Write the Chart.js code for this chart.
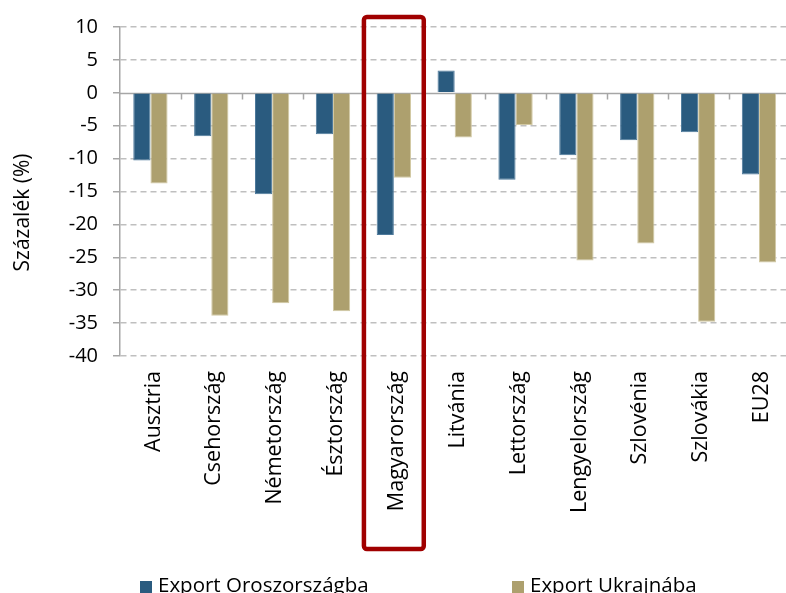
<!DOCTYPE html>
<html lang="hu">
<head>
<meta charset="utf-8">
<script src="https://cdn.jsdelivr.net/npm/chart.js@4/dist/chart.umd.min.js"></script>
<style>
  html, body { margin: 0; padding: 0; background: #fff; overflow: hidden; }
  #wrap { position: relative; width: 786px; height: 593px; overflow: hidden; }
  #c { position: absolute; left: 0; top: 0; }
  .leg { position: absolute; top: 570px; font: 20.5px "Open Sans", "Noto Sans", sans-serif; color: #000; white-space: nowrap; }
  .leg i { display: inline-block; width: 12px; height: 12px; margin-right: 6px; vertical-align: -1px; }
</style>
</head>
<body>
<div id="wrap">
  <canvas id="c" width="800" height="593"></canvas>
  <div class="leg" id="leg0" style="left:140px"></div>
  <div class="leg" id="leg1" style="left:512px"></div>
</div>
<script>
// Országok
const categories = ['Ausztria', 'Csehország', 'Németország', 'Észtország', 'Magyarország',
  'Litvánia', 'Lettország', 'Lengyelország', 'Szlovénia', 'Szlovákia', 'EU28'];

// Export változása, százalék
const exportRussia  = [-10.3, -6.6, -15.4, -6.3, -21.6, 3.4, -13.2, -9.5, -7.2, -6.0, -12.4];
const exportUkraine = [-13.8, -33.9, -32.0, -33.2, -12.9, -6.8, -4.9, -25.5, -22.9, -34.8, -25.8];

const seriesNames = ['Export Oroszországba', 'Export Ukrajnába'];
const yTicks = [10, 5, 0, -5, -10, -15, -20, -25, -30, -35, -40];
const highlighted = 'Magyarország';
const yTitle = 'Százalék (%)';

const colors = ['#2A5B7F', '#ADA06E'];
const borders = ['#4E7A9C', '#D2C9A4'];
const FONT = '"Open Sans", "Noto Sans", sans-serif';

// legend
[0, 1].forEach(i => {
  const el = document.getElementById('leg' + i);
  const sw = document.createElement('i');
  sw.style.background = colors[i];
  el.appendChild(sw);
  el.appendChild(document.createTextNode(seriesNames[i]));
});

// zero line with category ticks, y title, highlight frame
const decor = {
  id: 'decor',
  beforeDatasetsDraw(chart) {
    const { ctx, chartArea, scales: { x, y } } = chart;
    const y0 = Math.round(y.getPixelForValue(0)) + 0.5;
    ctx.save();
    ctx.strokeStyle = '#A6A6A6';
    ctx.lineWidth = 1.5;
    ctx.beginPath();
    ctx.moveTo(chartArea.left, y0);
    ctx.lineTo(chartArea.right, y0);
    const w = x.getPixelForValue(1) - x.getPixelForValue(0);
    for (let i = 1; i < categories.length; i++) {
      const px = Math.round(x.getPixelForValue(i) - w / 2) + 0.5;
      ctx.moveTo(px, y0);
      ctx.lineTo(px, y0 + 6);
    }
    ctx.stroke();
    ctx.restore();
  },
  afterDraw(chart) {
    const { ctx, chartArea, scales: { x, y } } = chart;
    ctx.save();
    // y axis title
    ctx.translate(23, (chartArea.top + chartArea.bottom) / 2 + 21);
    ctx.rotate(-Math.PI / 2);
    ctx.fillStyle = '#000';
    ctx.font = '21px ' + FONT;
    ctx.textAlign = 'center';
    ctx.textBaseline = 'middle';
    ctx.fillText(yTitle, 0, 0);
    ctx.restore();

    // highlight frame around one category
    const idx = categories.indexOf(highlighted);
    const w = x.getPixelForValue(1) - x.getPixelForValue(0);
    const cx = x.getPixelForValue(idx);
    const left = cx - w / 2 + 0.5, right = cx + w / 2 - 0.5;
    const top = y.getPixelForValue(yTicks[0]) - 10;
    const bottom = chartArea.bottom + 193;
    ctx.save();
    ctx.strokeStyle = '#A00000';
    ctx.lineWidth = 4.5;
    ctx.lineJoin = 'round';
    ctx.beginPath();
    ctx.roundRect(left, top, right - left, bottom - top, 3);
    ctx.stroke();
    ctx.restore();
  }
};

new Chart(document.getElementById('c'), {
  type: 'bar',
  data: {
    labels: categories,
    datasets: [
      { label: seriesNames[0], data: exportRussia, backgroundColor: colors[0], borderColor: borders[0], borderWidth: 1 },
      { label: seriesNames[1], data: exportUkraine, backgroundColor: colors[1], borderColor: borders[1], borderWidth: 1 }
    ]
  },
  options: {
    responsive: false,
    animation: false,
    devicePixelRatio: 1,
    layout: { padding: { left: 0, right: 5, top: 13, bottom: 0 } },
    datasets: { bar: { categoryPercentage: 0.564, barPercentage: 1 } },
    plugins: { legend: { display: false }, tooltip: { enabled: false } },
    scales: {
      x: {
        offset: true,
        grid: { display: false, drawTicks: false },
        border: { display: false },
        ticks: {
          autoSkip: false, minRotation: 90, maxRotation: 90, padding: 15, labelOffset: 3,
          color: '#000', font: { family: FONT, size: 21.5 }
        },
        afterFit(scale) { scale.height = 237; }
      },
      y: {
        min: -40, max: 10,
        afterBuildTicks(scale) { scale.ticks = yTicks.map(v => ({ value: v })); },
        grid: {
          color: c => (c.tick && c.tick.value === 0) ? 'rgba(0,0,0,0)' : '#BFBFBF',
          lineWidth: 1.5,
          tickLength: 7,
          tickColor: '#A6A6A6',
          tickBorderDash: [],
          tickWidth: 1.5
        },
        border: { display: true, color: '#A6A6A6', width: 1.5, dash: [6, 4] },
        ticks: { padding: 15, color: '#000', font: { family: FONT, size: 20 } },
        afterFit(scale) { scale.width = 120; }
      }
    }
  },
  plugins: [decor]
});
</script>
</body>
</html>
